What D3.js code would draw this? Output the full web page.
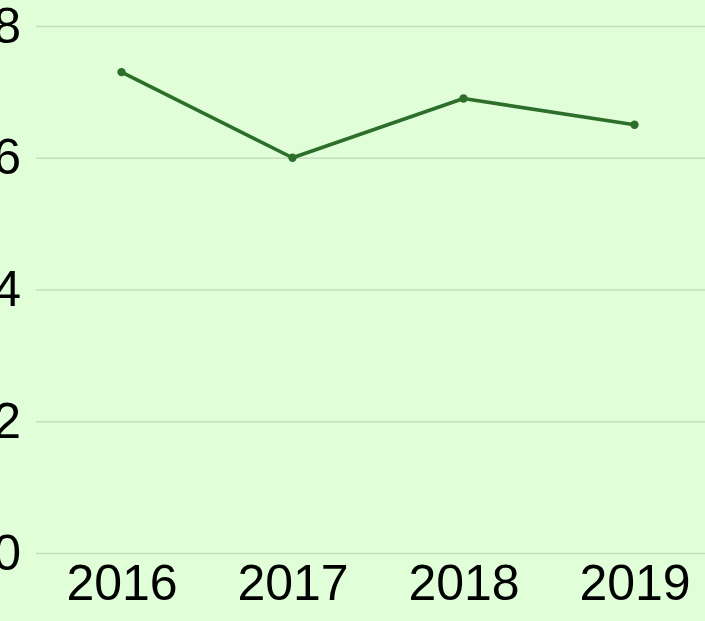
<!DOCTYPE html>
<html>
<head>
<meta charset="utf-8">
<script src="https://cdn.jsdelivr.net/npm/d3@7"></script>
<style>
  html, body { margin: 0; padding: 0; background: #e0ffd8; overflow: hidden; }
  svg { display: block; }
</style>
</head>
<body>
<svg id="chart" width="705" height="621"></svg>
<script>
const years = ["2016", "2017", "2018", "2019"];
const values = [7.3, 6.0, 6.9, 6.5];
const yTicks = [0, 2, 4, 6, 8];

const width = 705, height = 621;
const plot = { left: 36, right: 720, top: 26, bottom: 553 };
const fontFamily = "'Liberation Sans', Arial, sans-serif";

const svg = d3.select("#chart");

svg.append("rect")
  .attr("width", width).attr("height", height)
  .attr("fill", "#e0ffd8");

const x = d3.scalePoint()
  .domain(years)
  .range([plot.left, plot.right])
  .padding(0.5);

const y = d3.scaleLinear()
  .domain([0, 8])
  .range([plot.bottom, plot.top]);

// horizontal gridlines with value labels
const yAxis = d3.axisLeft(y)
  .tickValues(yTicks)
  .tickSize(-(plot.right - plot.left))
  .tickPadding(15)
  .tickFormat(d3.format("d"));

const gy = svg.append("g")
  .attr("transform", `translate(${plot.left},0)`)
  .call(yAxis);
gy.select(".domain").remove();
gy.selectAll(".tick line").attr("stroke", "#c6dcbf").attr("stroke-width", 1.3);
gy.selectAll(".tick text")
  .attr("fill", "#000")
  .attr("font-family", fontFamily)
  .attr("font-size", 50);

// category labels
const xAxis = d3.axisBottom(x).tickSize(0).tickPadding(11);
const gx = svg.append("g")
  .attr("transform", `translate(0,${plot.bottom})`)
  .call(xAxis);
gx.select(".domain").remove();
gx.selectAll(".tick text")
  .attr("fill", "#000")
  .attr("font-family", fontFamily)
  .attr("font-size", 50);

const data = years.map((yr, i) => ({ year: yr, value: values[i] }));

const line = d3.line()
  .x(d => x(d.year))
  .y(d => y(d.value));

svg.append("path")
  .datum(data)
  .attr("fill", "none")
  .attr("stroke", "#2c6e2a")
  .attr("stroke-width", 3.6)
  .attr("stroke-linejoin", "round")
  .attr("d", line);

svg.selectAll("circle.pt")
  .data(data)
  .join("circle")
  .attr("class", "pt")
  .attr("cx", d => x(d.year))
  .attr("cy", d => y(d.value))
  .attr("r", 4.2)
  .attr("fill", "#2c6e2a");
</script>
</body>
</html>
